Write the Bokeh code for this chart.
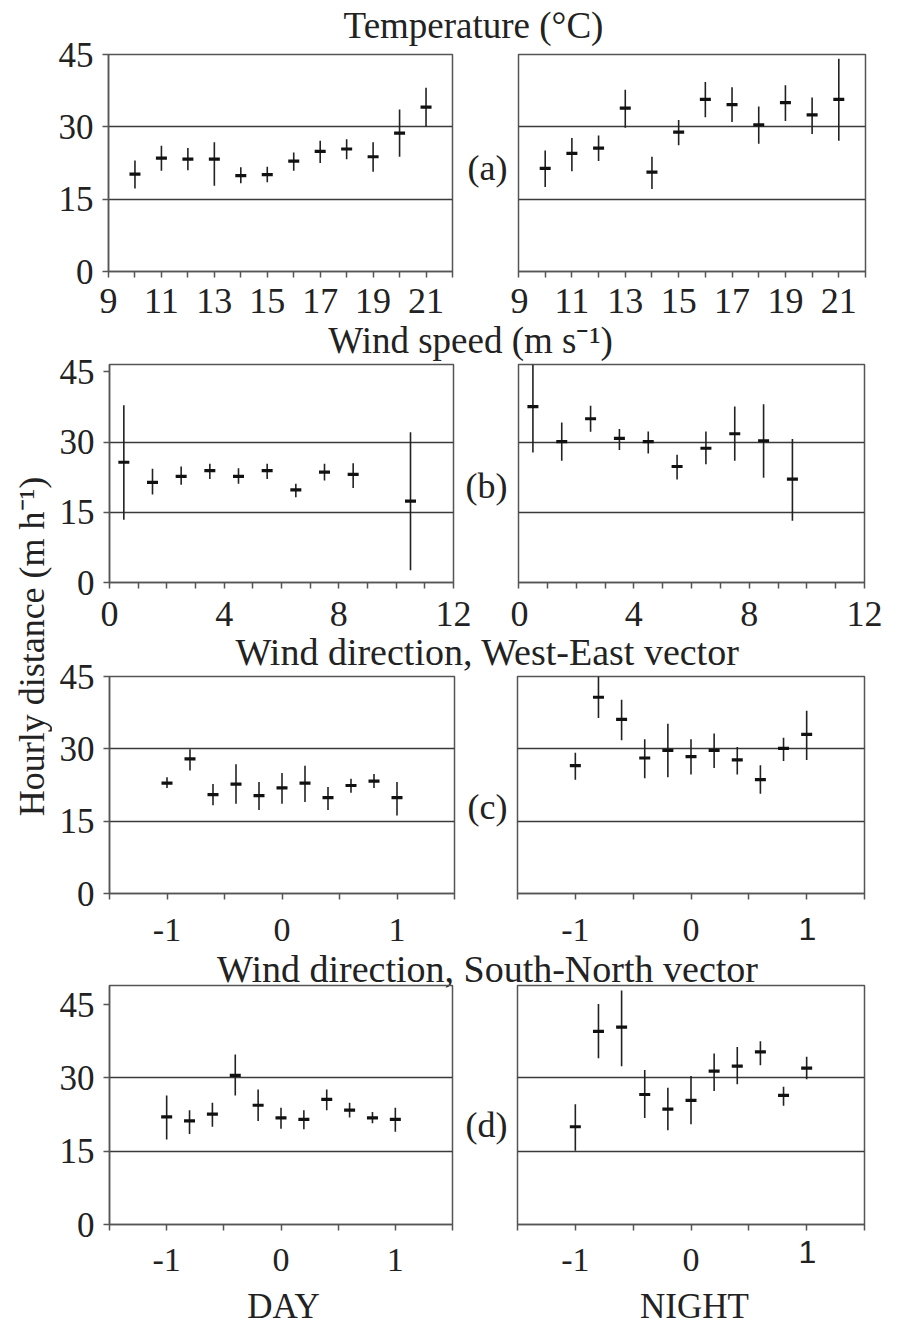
import math
from bokeh.plotting import figure
from bokeh.layouts import row, column
from bokeh.models import Range1d, FixedTicker, Label, LinearAxis
from bokeh.embed import file_html
from bokeh.resources import INLINE

# ---------------- data ----------------
temp_x = [10, 11, 12, 13, 14, 15, 16, 17, 18, 19, 20, 21]
temp_day_mean = [20.2, 23.5, 23.3, 23.3, 19.9, 20.1, 22.9, 24.9, 25.4, 23.8, 28.7, 34.1]
temp_day_low = [17.2, 20.9, 21.0, 17.8, 18.3, 18.5, 20.9, 22.5, 23.3, 20.7, 23.8, 30.0]
temp_day_high = [23.0, 26.1, 25.6, 26.8, 21.6, 21.7, 24.7, 27.1, 27.4, 26.8, 33.6, 38.1]
temp_night_mean = [21.4, 24.5, 25.6, 33.9, 20.6, 28.9, 35.7, 34.6, 30.4, 35.0, 32.5, 35.7]
temp_night_low = [17.5, 20.8, 22.9, 29.8, 17.1, 26.2, 32.0, 31.0, 26.5, 31.2, 28.5, 27.1]
temp_night_high = [25.1, 27.7, 28.2, 37.7, 23.8, 31.4, 39.3, 38.2, 34.2, 38.6, 36.1, 44.1]

speed_day_x = [0.5, 1.5, 2.5, 3.5, 4.5, 5.5, 6.5, 7.5, 8.5, 10.5]
speed_day_mean = [25.7, 21.4, 22.7, 23.9, 22.7, 23.9, 19.8, 23.6, 23.1, 17.4]
speed_day_low = [13.4, 18.8, 20.9, 22.1, 21.1, 22.1, 18.2, 21.8, 20.2, 2.6]
speed_day_high = [37.9, 24.3, 24.8, 25.4, 24.4, 25.4, 21.1, 25.4, 25.5, 32.1]
speed_night_x = [0.5, 1.5, 2.5, 3.5, 4.5, 5.5, 6.5, 7.5, 8.5, 9.5]
speed_night_mean = [37.6, 30.1, 35.0, 30.8, 30.1, 24.8, 28.7, 31.8, 30.3, 22.1]
speed_night_low = [27.8, 26.0, 32.2, 28.3, 27.6, 22.0, 25.3, 26.0, 22.4, 13.2]
speed_night_high = [46.6, 34.2, 37.8, 32.8, 32.3, 27.3, 32.3, 37.6, 38.1, 30.7]

dir_x = [-1.0, -0.8, -0.6, -0.4, -0.2, 0.0, 0.2, 0.4, 0.6, 0.8, 1.0]
we_day_mean = [22.9, 27.9, 20.5, 22.7, 20.3, 21.9, 22.9, 19.9, 22.4, 23.3, 19.9]
we_day_low = [21.9, 25.5, 18.3, 18.6, 17.3, 18.6, 19.0, 17.3, 20.9, 21.9, 16.2]
we_day_high = [24.1, 29.9, 22.7, 26.8, 23.1, 25.0, 26.5, 22.1, 23.8, 24.8, 23.1]
we_night_mean = [26.5, 40.7, 36.1, 28.1, 29.7, 28.4, 29.7, 27.7, 23.6, 30.1, 33.0]
we_night_low = [23.6, 36.4, 31.8, 23.9, 24.1, 24.7, 26.0, 24.7, 20.7, 27.5, 27.7]
we_night_high = [29.2, 45.0, 40.2, 32.0, 35.2, 32.0, 33.2, 30.4, 26.6, 32.3, 37.9]

sn_day_mean = [22.0, 21.2, 22.6, 30.5, 24.4, 21.8, 21.5, 25.6, 23.4, 21.8, 21.5]
sn_day_low = [17.4, 18.5, 20.0, 26.4, 21.2, 19.6, 19.5, 23.4, 21.9, 20.7, 19.0]
sn_day_high = [26.4, 23.4, 24.9, 34.8, 27.6, 23.9, 23.4, 27.6, 24.9, 23.0, 23.9]
sn_night_mean = [20.0, 39.5, 40.4, 26.6, 23.6, 25.4, 31.4, 32.4, 35.3, 26.4, 32.0]
sn_night_low = [15.1, 34.0, 32.4, 21.8, 19.3, 20.5, 27.3, 28.7, 32.6, 24.3, 29.7]
sn_night_high = [24.6, 45.1, 47.9, 31.6, 28.0, 30.4, 35.0, 36.3, 37.5, 28.2, 34.3]

y_ticks = [0, 15, 30, 45]
grid_levels = [15, 30]
temp_ticks = [9, 11, 13, 15, 17, 19, 21]
temp_minor = [10, 12, 14, 16, 18, 20, 22]
speed_ticks = [0, 4, 8, 12]
speed_minor = [1, 2, 3, 5, 6, 7, 9, 10, 11]
dir_ticks = [-1, 0, 1]
dir_minor = [-1.5, -0.5, 0.5, 1.5]
dir_tick_text = {-1: "-1", 0: "0", 1: "1"}
# in the night panels (c) and (d) the "1" is printed in a sans-serif face (written separately)
dir_tick_text_night = {-1: "-1", 0: "0", 1: ""}

headings = ["Temperature (\u00b0C)", "Wind speed (m s\u207b\u00b9)",
            "Wind direction, West-East vector", "Wind direction, South-North vector"]
panel_tags = ["(a)", "(b)", "(c)", "(d)"]
y_title = "Hourly distance (m h\u207b\u00b9)"
col_titles = ["DAY", "NIGHT"]

# ---------------- layout constants (window pixels) ----------------
SERIF = "Liberation Serif"
SANS = "Liberation Sans"
INK = "#222222"
FRAME = "#555555"
X0, XL, XM, X1 = 0, 52, 510, 895          # x: start, left panels start, split, end
METRICS = {SERIF: (0.891, 0.216), SANS: (0.905, 0.212)}   # ascent / descent (em)


def text_fig(x0, x1, y0, y1, margin=(0, 0, 0, 0)):
    p = figure(width=int(x1 - x0), height=int(y1 - y0), output_backend="svg",
               toolbar_location=None, title=None, margin=margin,
               x_range=Range1d(x0, x1), y_range=Range1d(y1, y0),
               min_border=0, background_fill_color=None, border_fill_color=None,
               outline_line_color=None)
    p.axis.visible = False
    p.grid.visible = False
    return p


def txt(p, x, baseline_y, s, size_px, font=SERIF, angle=0.0, center=False):
    # text is anchored at the middle of its font box; convert an alphabetic baseline to that middle
    asc, desc = METRICS[font]
    y = baseline_y if center else baseline_y - (asc - desc) / 2 * size_px
    p.add_layout(Label(x=x, y=y, text=s, text_font=font, text_font_size=f"{size_px}px",
                       text_color=INK, text_align="center", text_baseline="middle", angle=angle))


def make_panel(canvas, frame, xr, yr, ticks, minor, xs, mean, low, high, left_side,
               xlab_size, x_standoff, overrides=None):
    cx0, cx1, cy0, cy1 = canvas
    L, R, T, B = frame
    p = figure(width=int(cx1 - cx0), height=int(cy1 - cy0), output_backend="svg",
               toolbar_location=None, title=None,
               x_range=Range1d(*xr), y_range=Range1d(*yr),
               min_border_left=int(round(L - cx0)), min_border_right=int(round(cx1 - R)),
               min_border_top=int(round(T - cy0)), min_border_bottom=int(round(cy1 - B)),
               background_fill_color=None, border_fill_color=None,
               outline_line_color=FRAME, outline_line_width=1.5)
    p.xgrid.visible = False
    p.ygrid.ticker = FixedTicker(ticks=grid_levels)
    p.ygrid.grid_line_color = "#3a3a3a"
    p.ygrid.grid_line_width = 1.5
    p.ygrid.grid_line_alpha = 1.0

    xa = p.xaxis[0]
    xa.ticker = FixedTicker(ticks=ticks, minor_ticks=minor)
    xa.axis_line_color = FRAME
    xa.axis_line_width = 1.5
    xa.major_tick_line_color = FRAME
    xa.minor_tick_line_color = FRAME
    xa.major_tick_line_width = 1.5
    xa.minor_tick_line_width = 1.5
    xa.major_tick_out = 6
    xa.major_tick_in = 0
    xa.minor_tick_out = 6
    xa.minor_tick_in = 0
    xa.major_label_text_font = SERIF
    xa.major_label_text_font_size = xlab_size
    xa.major_label_text_color = INK
    xa.major_label_standoff = x_standoff
    if overrides:
        xa.major_label_overrides = overrides

    ya = p.yaxis[0]
    if left_side:
        ya.ticker = FixedTicker(ticks=y_ticks, minor_ticks=[])
        ya.axis_line_color = FRAME
        ya.axis_line_width = 1.5
        ya.major_tick_line_color = FRAME
        ya.major_tick_line_width = 1.5
        ya.major_tick_in = 0
        ya.major_tick_out = 6
        ya.major_label_text_font = SERIF
        ya.major_label_text_font_size = "35px"
        ya.major_label_text_color = INK
        ya.major_label_standoff = 9
    else:
        ya.visible = False

    p.segment(x0=xs, y0=low, x1=xs, y1=high, line_color=INK, line_width=1.6)
    p.scatter(x=xs, y=mean, marker="dash", size=11, line_color="#111111", line_width=3.2)
    return p


def add_tag(p, frame, yr, tag, tag_center_y, tag_left_x):
    """Panel tag written as the single label of an unlined axis on the right of the day panel."""
    L, R, T, B = frame
    ty = round(yr[0] + (B - tag_center_y) / (B - T) * (yr[1] - yr[0]), 2)
    ax = LinearAxis(ticker=FixedTicker(ticks=[ty], minor_ticks=[]),
                    major_label_overrides={ty: tag},
                    axis_line_color=None, major_tick_line_color=None, minor_tick_line_color=None,
                    major_tick_out=0, major_tick_in=0,
                    major_label_standoff=int(round(tag_left_x - R)),
                    major_label_text_font=SERIF, major_label_text_font_size="36px",
                    major_label_text_color=INK)
    p.add_layout(ax, "right")


rows_spec = [
    dict(canvas_y=(30, 334), lf=(108.3, 453.3, 54, 270.7), rf=(518.3, 865, 54, 270.7),
         xr=(9, 22), yr=(0, 45), ticks=temp_ticks, minor=temp_minor, size="36px", so=11,
         ov=None, ovn=None,
         day=(temp_x, temp_day_mean, temp_day_low, temp_day_high),
         night=(temp_x, temp_night_mean, temp_night_low, temp_night_high), tag=(167, 468)),
    dict(canvas_y=(348, 644), lf=(109.3, 455, 364, 581.7), rf=(518.3, 864.3, 364, 581.7),
         xr=(0, 12), yr=(0, 46.6), ticks=speed_ticks, minor=speed_minor, size="36px", so=13,
         ov=None, ovn=None,
         day=(speed_day_x, speed_day_mean, speed_day_low, speed_day_high),
         night=(speed_night_x, speed_night_mean, speed_night_low, speed_night_high), tag=(485, 467)),
    dict(canvas_y=(652, 958), lf=(109.3, 454.3, 675.7, 893.3), rf=(517.3, 864.3, 675.7, 893.3),
         xr=(-1.5, 1.5), yr=(0, 45), ticks=dir_ticks, minor=dir_minor, size="34px", so=19,
         ov=dir_tick_text, ovn=dir_tick_text_night,
         day=(dir_x, we_day_mean, we_day_low, we_day_high),
         night=(dir_x, we_night_mean, we_night_low, we_night_high), tag=(807, 467)),
    dict(canvas_y=(978, 1290), lf=(109.3, 454.3, 985, 1224.3), rf=(517.3, 864.3, 985, 1224.3),
         xr=(-1.5, 1.5), yr=(0, 48.9), ticks=dir_ticks, minor=dir_minor, size="34px", so=18,
         ov=dir_tick_text, ovn=dir_tick_text_night,
         day=(dir_x, sn_day_mean, sn_day_low, sn_day_high),
         night=(dir_x, sn_night_mean, sn_night_low, sn_night_high), tag=(1125, 467)),
]

# headings: (centre x, baseline y, font px, strip top, strip bottom)
head_spec = [(473, 37, 37, 0, 50), (470, 352, 37, 318, 366),
             (487, 664, 38, 628, 678), (487, 981, 38, 905, 992)]
SANS_ONE_X = 807
SANS_ONE_BASE = [940, 1263]     # baselines of the sans "1" under panels (c) and (d) night

strips = []
prev_bottom = 0
for i, spec in enumerate(rows_spec):
    hx, hb, hs, hy0, hy1 = head_spec[i]
    ry0, ry1 = spec["canvas_y"]
    # negative margins let the heading strip overlap the neighbouring panel canvases
    h = text_fig(XL, X1, hy0, hy1, margin=(hy0 - prev_bottom, 0, ry0 - hy1, 0))
    txt(h, hx, hb, headings[i], hs)
    if i == 3:
        txt(h, SANS_ONE_X, SANS_ONE_BASE[0], "1", 32, font=SANS)
    strips.append(h)

    left = make_panel((XL, XM, ry0, ry1), spec["lf"], spec["xr"], spec["yr"], spec["ticks"],
                      spec["minor"], *spec["day"], True, spec["size"], spec["so"], overrides=spec["ov"])
    right = make_panel((XM, X1, ry0, ry1), spec["rf"], spec["xr"], spec["yr"], spec["ticks"],
                       spec["minor"], *spec["night"], False, spec["size"], spec["so"], overrides=spec["ovn"])
    add_tag(left, spec["lf"], spec["yr"], panel_tags[i], spec["tag"][0], spec["tag"][1])
    strips.append(row(left, right))
    prev_bottom = ry1

BOT0, BOT1 = 1232, 1326
bottom = text_fig(XL, X1, BOT0, BOT1, margin=(BOT0 - prev_bottom, 0, 0, 0))
txt(bottom, SANS_ONE_X, SANS_ONE_BASE[1], "1", 32, font=SANS)
txt(bottom, 283, 1318, col_titles[0], 35)
txt(bottom, 694, 1318, col_titles[1], 35)
strips.append(bottom)

ylab = text_fig(X0, XL, 0, 1326)
txt(ylab, 31, 646, y_title, 36, angle=math.pi / 2, center=True)

root = row(ylab, column(*strips))

open("out.html", "w").write(file_html(root, INLINE))
